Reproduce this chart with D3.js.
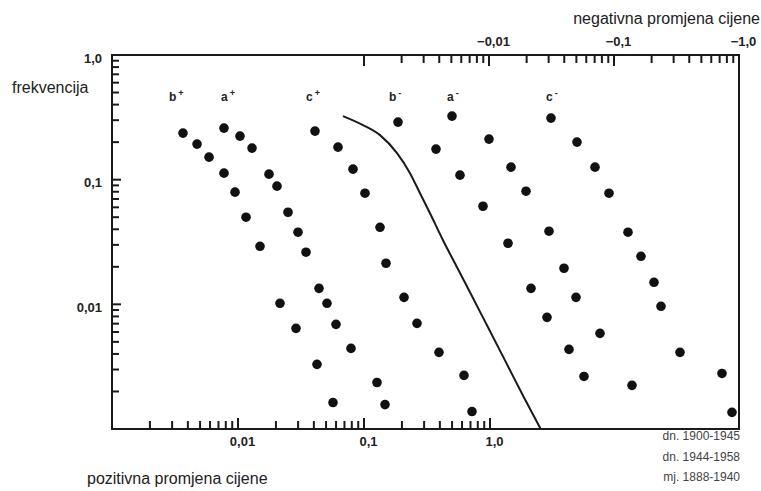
<!DOCTYPE html>
<html>
<head>
<meta charset="utf-8">
<script src="https://cdn.jsdelivr.net/npm/d3@7"></script>
<style>
  body { margin: 0; background: #fff; }
  svg { display: block; }
  text { font-family: "Liberation Sans", Arial, sans-serif; }
</style>
</head>
<body>
<svg id="chart" width="761" height="491"></svg>
<script>
// positive price changes (bottom axis), relative frequency (left axis)
const bPlusX = [0.00366, 0.00473, 0.00589, 0.00774, 0.00947, 0.01158, 0.01495, 0.02154, 0.02886, 0.04236, 0.05675];
const bPlusY = [0.2363, 0.1929, 0.1516, 0.1128, 0.0794, 0.0500, 0.0292, 0.01019, 0.00642, 0.00330, 0.00163];

const aPlusX = [0.00774, 0.01037, 0.01292, 0.01762, 0.02039, 0.02494, 0.02994, 0.03465, 0.04395, 0.05085, 0.05995, 0.07884, 0.1268, 0.1468];
const aPlusY = [0.2593, 0.2236, 0.1791, 0.1107, 0.0887, 0.0548, 0.0379, 0.0262, 0.01344, 0.01019, 0.00691, 0.00443, 0.00236, 0.00157];

const cPlusX = [0.04084, 0.06218, 0.08178, 0.1018, 0.1340, 0.1495, 0.2078, 0.2634, 0.3937, 0.6218, 0.7197];
const cPlusY = [0.2453, 0.1824, 0.1214, 0.0779, 0.0415, 0.02135, 0.01138, 0.00704, 0.00412, 0.00269, 0.00138];

// negative price changes (absolute value, top axis)
const bMinusX = [0.001871, 0.003767, 0.005861, 0.008954, 0.01419, 0.02168, 0.02911, 0.04365, 0.05754];
const bMinusY = [0.2896, 0.1758, 0.1087, 0.0612, 0.0309, 0.01344, 0.00786, 0.00435, 0.00264];

const aMinusX = [0.005058, 0.01, 0.015, 0.01977, 0.0302, 0.03981, 0.04966, 0.07727, 0.1393];
const aMinusY = [0.3236, 0.2115, 0.1260, 0.0808, 0.0386, 0.01947, 0.01138, 0.00585, 0.00224];

const cMinusX = [0.03133, 0.05058, 0.07047, 0.0912, 0.1294, 0.1644, 0.2089, 0.2377, 0.3373, 0.7311, 0.879];
const cMinusY = [0.3119, 0.2001, 0.1260, 0.0779, 0.0379, 0.02429, 0.01502, 0.00964, 0.00412, 0.00279, 0.00136];

// reference curve (bottom axis)
const curveX = [0.0681, 0.0982, 0.1340, 0.1828, 0.2318, 0.2782, 0.3340, 0.4236, 0.5523, 0.7002, 0.9641, 1.315, 1.861, 2.541];
const curveY = [0.3236, 0.274, 0.2277, 0.1633, 0.1128, 0.0779, 0.0538, 0.0327, 0.01947, 0.01226, 0.00654, 0.00355, 0.00179, 0.00099];

const legendLines = ["dn. 1900-1945", "dn. 1944-1958", "mj. 1888-1940"];

function decadeTicks(from, to) {
  var t = [];
  for (var e = from; e < to; e++)
    for (var m = 1; m <= 9; m++) t.push(+(m * Math.pow(10, e)).toPrecision(3));
  t.push(Math.pow(10, to));
  return t;
}
function isMajor(v) { return Math.abs(Math.log10(v) - Math.round(Math.log10(v))) < 1e-6; }
function comma(v) { return v >= 1 ? "1,0" : String(v).replace(".", ","); }

const plotLeft = 112, plotRight = 739, plotTop = 55, plotBottom = 429;

const svg = d3.select("#chart");

var xBottom = d3.scaleLog().domain([0.001, 1]).range([plotLeft, 490]);
var xTop = d3.scaleLog().domain([0.001, 1]).range([364, plotRight]);
var y = d3.scaleLog().domain([0.001, 1]).range([plotBottom, plotTop]);

// frame
svg.append("rect")
  .attr("x", plotLeft).attr("y", plotTop)
  .attr("width", plotRight - plotLeft).attr("height", plotBottom - plotTop)
  .attr("fill", "none").attr("stroke", "#1a1a1a").attr("stroke-width", 2);

function styleAxis(g) {
  g.select(".domain").remove();
  g.selectAll(".tick line").remove();
  g.selectAll(".tick text")
    .attr("font-size", 13).attr("font-weight", "bold").attr("fill", "#222");
}

var bottomTicks = decadeTicks(-3, 0).filter(v => v > 0.001);
var topTicks = decadeTicks(-3, 0);
var leftTicks = decadeTicks(-3, 0).filter(v => v > 0.001);

// axis labels
var gB = svg.append("g").attr("transform", "translate(0," + plotBottom + ")")
  .call(d3.axisBottom(xBottom).tickValues(bottomTicks).tickSize(0).tickPadding(8)
    .tickFormat(v => isMajor(v) ? comma(v) : ""));
styleAxis(gB);
gB.selectAll(".tick text").attr("dx", 4);

var gT = svg.append("g").attr("transform", "translate(0," + plotTop + ")")
  .call(d3.axisTop(xTop).tickValues(topTicks).tickSize(0).tickPadding(9)
    .tickFormat(v => (isMajor(v) && v > 0.001) ? "\u2212" + comma(v) : ""));
styleAxis(gT);
gT.selectAll(".tick text").attr("dx", 4);

var gL = svg.append("g").attr("transform", "translate(" + plotLeft + ",0)")
  .call(d3.axisLeft(y).tickValues(leftTicks).tickSize(0).tickPadding(10)
    .tickFormat(v => isMajor(v) ? comma(v) : ""));
styleAxis(gL);
gL.selectAll(".tick text").attr("dy", "0.55em");

// inward tick marks
var ticks = svg.append("g").attr("stroke", "#1a1a1a").attr("stroke-width", 2);
ticks.selectAll(".tb").data(bottomTicks).enter().append("line").attr("class", "tb")
  .attr("x1", d => xBottom(d)).attr("x2", d => xBottom(d))
  .attr("y1", plotBottom).attr("y2", d => plotBottom - (isMajor(d) ? 11 : 8));
ticks.selectAll(".tt").data(topTicks).enter().append("line").attr("class", "tt")
  .attr("x1", d => xTop(d)).attr("x2", d => xTop(d))
  .attr("y1", plotTop).attr("y2", d => plotTop + (isMajor(d) ? 11 : 8));
ticks.selectAll(".tl").data(leftTicks).enter().append("line").attr("class", "tl")
  .attr("y1", d => y(d)).attr("y2", d => y(d))
  .attr("x1", plotLeft).attr("x2", d => plotLeft + (isMajor(d) ? 9 : 7));

// reference curve
var line = d3.line()
  .x((d, i) => xBottom(curveX[i]))
  .y((d, i) => y(curveY[i]))
  .curve(d3.curveMonotoneX);
svg.append("path")
  .attr("d", line(curveX))
  .attr("fill", "none").attr("stroke", "#1a1a1a").attr("stroke-width", 2);

// dots
var series = [
  { x: bPlusX, y: bPlusY, sx: xBottom },
  { x: aPlusX, y: aPlusY, sx: xBottom },
  { x: cPlusX, y: cPlusY, sx: xBottom },
  { x: bMinusX, y: bMinusY, sx: xTop },
  { x: aMinusX, y: aMinusY, sx: xTop },
  { x: cMinusX, y: cMinusY, sx: xTop }
];
series.forEach(function (s) {
  svg.append("g").selectAll("circle")
    .data(s.x)
    .enter()
    .append("circle")
    .attr("cx", d => s.sx(d))
    .attr("cy", (d, i) => y(s.y[i]))
    .attr("r", 4.8)
    .attr("fill", "#111");
});

// series labels
var labels = [
  { t: "b", s: "+", x: 169, y: 101 },
  { t: "a", s: "+", x: 221, y: 101 },
  { t: "c", s: "+", x: 306, y: 101 },
  { t: "b", s: "-", x: 389, y: 101 },
  { t: "a", s: "-", x: 447, y: 101 },
  { t: "c", s: "-", x: 546, y: 101 }
];
labels.forEach(function (l) {
  var t = svg.append("text").attr("x", l.x).attr("y", l.y)
    .attr("font-size", 12).attr("font-weight", "bold").attr("fill", "#222");
  t.append("tspan").text(l.t);
  t.append("tspan").attr("dx", 2).attr("dy", -5).attr("font-size", 9).text(l.s);
});

// axis titles
svg.append("text").attr("x", 760).attr("y", 24).attr("text-anchor", "end")
  .attr("font-size", 16).attr("fill", "#222").text("negativna promjena cijene");
svg.append("text").attr("x", 12).attr("y", 93)
  .attr("font-size", 16).attr("fill", "#222").text("frekvencija");
svg.append("text").attr("x", 87).attr("y", 484)
  .attr("font-size", 16).attr("fill", "#222").text("pozitivna promjena cijene");

// legend
svg.append("g").selectAll("text")
  .data(legendLines)
  .enter()
  .append("text")
  .attr("x", 740)
  .attr("y", (d, i) => 440 + i * 20.5)
  .attr("text-anchor", "end")
  .attr("font-size", 12)
  .attr("fill", "#444")
  .text(d => d);
</script>
</body>
</html>
